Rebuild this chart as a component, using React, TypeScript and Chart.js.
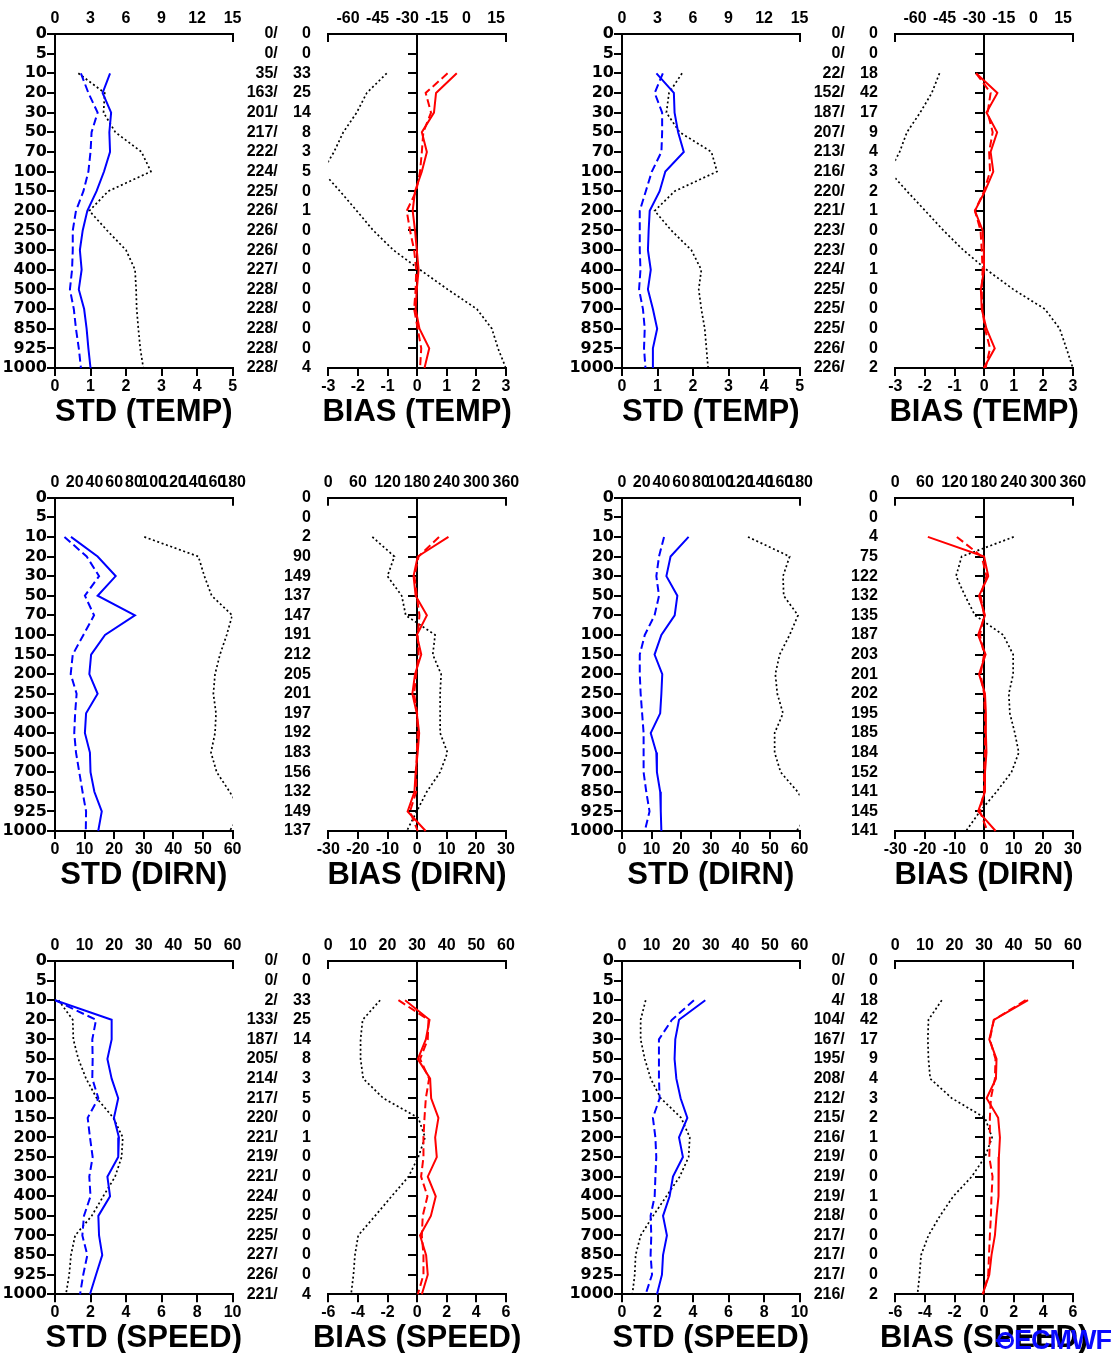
import React, { useEffect, useRef } from 'react';
import { Chart, registerables } from 'chart.js';

Chart.register(...registerables);

// ---------- shared categories ----------
const LEVELS = ['0', '5', '10', '20', '30', '50', '70', '100', '150', '200', '250', '300', '400', '500', '700', '850', '925', '1000'];

// ---------- row 1 : temperature ----------
const STD_TEMP_A_SOLID = [null, null, 1.55, 1.34, 1.58, 1.53, 1.55, 1.38, 1.17, 0.91, 0.78, 0.70, 0.75, 0.67, 0.82, 0.89, 0.94, 1.00];
const STD_TEMP_A_DASH = [null, null, 0.73, 0.94, 1.20, 1.03, 1.00, 0.94, 0.80, 0.59, 0.50, 0.50, 0.48, 0.42, 0.53, 0.59, 0.67, 0.73];
const STD_TEMP_A_DOT = [null, null, 1.97, 4.2, 4.1, 5.1, 7.3, 8.1, 4.5, 2.9, 4.4, 6.0, 6.76, 6.85, 6.9, 7.04, 7.2, 7.46];
const BIAS_TEMP_A_SOLID = [null, null, 1.34, 0.64, 0.57, 0.16, 0.33, 0.16, -0.07, -0.15, -0.07, -0.01, 0.05, -0.01, -0.05, 0.08, 0.41, 0.25];
const BIAS_TEMP_A_DASH = [null, null, 1.03, 0.29, 0.47, 0.21, 0.16, 0.10, -0.03, -0.35, -0.24, -0.10, -0.03, -0.05, -0.10, 0.02, 0.14, 0.10];
const BIAS_TEMP_A_DOT = [null, null, -40.4, -50.5, -55.6, -62.4, -67.1, -73, -64.1, -55.6, -47.2, -37, -23.5, -9.5, 5.3, 12.9, 16.0, 20.0];
const COUNT_TEMP_A_1 = ['0/', '0/', '35/', '163/', '201/', '217/', '222/', '224/', '225/', '226/', '226/', '226/', '227/', '228/', '228/', '228/', '228/', '228/'];
const COUNT_TEMP_A_2 = ['0', '0', '33', '25', '14', '8', '3', '5', '0', '1', '0', '0', '0', '0', '0', '0', '0', '4'];

const STD_TEMP_B_SOLID = [null, null, 0.97, 1.46, 1.48, 1.58, 1.74, 1.22, 1.06, 0.78, 0.75, 0.73, 0.81, 0.73, 0.87, 0.99, 0.87, 0.87];
const STD_TEMP_B_DASH = [null, null, 1.15, 0.92, 1.13, 1.13, 1.11, 0.84, 0.67, 0.50, 0.50, 0.50, 0.52, 0.48, 0.59, 0.64, 0.62, 0.66];
const STD_TEMP_B_DOT = [null, null, 5.07, 3.97, 3.75, 4.87, 7.55, 8.03, 4.45, 2.76, 4.17, 5.86, 6.7, 6.48, 6.7, 6.99, 7.13, 7.27];
const BIAS_TEMP_B_SOLID = [null, null, -0.27, 0.45, 0.08, 0.44, 0.22, 0.31, 0.03, -0.31, -0.05, -0.01, 0.0, -0.11, -0.08, 0.08, 0.36, -0.01];
const BIAS_TEMP_B_DASH = [null, null, -0.27, 0.22, 0.12, 0.29, 0.17, 0.20, 0.0, -0.31, -0.12, -0.08, -0.05, -0.08, -0.06, 0.03, 0.20, 0.05];
const BIAS_TEMP_B_DOT = [null, null, -47.6, -51.5, -57.4, -64.1, -67.8, -73, -64.1, -54.8, -45.6, -35.5, -23.7, -10.2, 5.8, 13.3, 16.7, 20.0];
const COUNT_TEMP_B_1 = ['0/', '0/', '22/', '152/', '187/', '207/', '213/', '216/', '220/', '221/', '223/', '223/', '224/', '225/', '225/', '225/', '226/', '226/'];
const COUNT_TEMP_B_2 = ['0', '0', '18', '42', '17', '9', '4', '3', '2', '1', '0', '0', '1', '0', '0', '0', '0', '2'];

// ---------- row 2 : wind direction ----------
const STD_DIRN_A_SOLID = [null, null, 5.4, 14.4, 20.5, 14.4, 27.0, 16.9, 12.2, 11.6, 14.4, 10.5, 10.1, 11.8, 12.0, 13.3, 15.8, 14.6];
const STD_DIRN_A_DASH = [null, null, 3.2, 10.7, 14.9, 10.1, 13.2, 9.6, 6.0, 5.3, 7.3, 6.8, 6.5, 7.1, 8.2, 9.3, 10.5, 10.4];
const STD_DIRN_A_DOT = [null, null, 90.5, 145.3, 151.4, 158.8, 179.7, 174, 167.2, 162.2, 160.5, 163.2, 162.2, 158.1, 163.9, 177, 189, 177];
const BIAS_DIRN_A_SOLID = [null, null, 10.6, 0.2, -1.2, -0.5, 3.3, -0.1, 1.4, -0.7, -1.6, -0.1, 0.7, 0.2, -0.5, -0.9, -3.2, 2.9];
const BIAS_DIRN_A_DASH = [null, null, 7.4, 0.5, -0.9, -0.1, 0.8, 0.2, 0.5, -0.3, -1.0, 0.0, 0.2, -0.1, -0.3, -0.3, -2.4, 0.2];
const BIAS_DIRN_A_DOT = [null, null, 89.3, 134, 119.8, 148.8, 157, 216.5, 211.8, 228.7, 226.7, 226.7, 226.7, 241.5, 226.7, 199.6, 179.3, 159];
const COUNT_DIRN_A = ['0', '0', '2', '90', '149', '137', '147', '191', '212', '205', '201', '197', '192', '183', '156', '132', '149', '137'];

const STD_DIRN_B_SOLID = [null, null, 22.5, 16.4, 15.0, 18.7, 17.8, 13.3, 11.0, 13.6, 13.3, 12.9, 9.7, 11.6, 11.8, 12.9, 13.1, 13.3];
const STD_DIRN_B_DASH = [null, null, 14.2, 12.5, 11.6, 12.5, 11.0, 7.7, 6.0, 6.0, 6.3, 6.8, 7.3, 7.3, 7.3, 8.2, 9.3, 7.7];
const STD_DIRN_B_DOT = [null, null, 127.7, 169.9, 163.2, 163.9, 178.4, 169.9, 159.8, 155.4, 157.4, 163.2, 154.7, 154.7, 160.8, 178, 190, 177];
const BIAS_DIRN_B_SOLID = [null, null, -19.0, 0.0, 1.4, -1.7, 0.3, -2.0, 0.5, -1.7, 0.3, 0.6, 0.6, 0.8, 0.3, 0.3, -2.0, 3.9];
const BIAS_DIRN_B_DASH = [null, null, -9.2, -0.8, 0.8, -1.2, 0.0, -1.4, 0.0, -1.2, 0.0, 0.3, 0.3, 0.3, 0.0, 0.0, -1.4, 1.1];
const BIAS_DIRN_B_DOT = [null, null, 240, 134.6, 123.1, 141.3, 161.5, 218.7, 238.9, 238.9, 230.1, 232.2, 242.3, 250.3, 235.5, 205.2, 171.6, 143.3];
const COUNT_DIRN_B = ['0', '0', '4', '75', '122', '132', '135', '187', '203', '201', '202', '195', '185', '184', '152', '141', '145', '141'];

// ---------- row 3 : wind speed ----------
const STD_SPEED_A_SOLID = [null, null, 0.0, 3.19, 3.19, 2.95, 3.19, 3.56, 3.32, 3.6, 3.56, 2.95, 3.1, 2.44, 2.48, 2.66, 2.31, 1.97];
const STD_SPEED_A_DASH = [null, null, 0.0, 2.31, 2.1, 2.12, 2.1, 2.44, 1.84, 1.97, 2.12, 1.93, 2.0, 1.63, 1.54, 1.82, 1.59, 1.41];
const STD_SPEED_A_DOT = [null, null, 1.2, 6.0, 6.2, 7.9, 10.5, 14.1, 19.7, 22.9, 22.5, 20.3, 16.3, 12.4, 6.8, 5.4, 4.8, 3.7];
const BIAS_SPEED_A_SOLID = [null, null, -0.81, 0.84, 0.59, 0.05, 0.88, 0.95, 1.44, 1.22, 1.33, 0.72, 1.26, 0.93, 0.2, 0.61, 0.72, 0.32];
const BIAS_SPEED_A_DASH = [null, null, -1.26, 0.77, 0.72, 0.2, 0.81, 0.59, 0.5, 0.43, 0.43, 0.27, 0.7, 0.38, 0.32, 0.43, 0.43, 0.05];
const BIAS_SPEED_A_DOT = [null, null, 17.5, 11.6, 10.9, 10.9, 11.8, 18.6, 30.4, 32.7, 30.4, 27.1, 21.4, 15.8, 10.1, 9.0, 8.5, 7.7];
const COUNT_SPEED_A_1 = ['0/', '0/', '2/', '133/', '187/', '205/', '214/', '217/', '220/', '221/', '219/', '221/', '224/', '225/', '225/', '227/', '226/', '221/'];
const COUNT_SPEED_A_2 = ['0', '0', '33', '25', '14', '8', '3', '5', '0', '1', '0', '0', '0', '0', '0', '0', '0', '4'];

const STD_SPEED_B_SOLID = [null, null, 4.69, 3.21, 3.0, 2.96, 3.06, 3.3, 3.68, 3.21, 3.43, 2.87, 2.68, 2.31, 2.53, 2.31, 2.25, 1.97];
const STD_SPEED_B_DASH = [null, null, 4.05, 2.81, 2.08, 2.08, 2.08, 2.12, 1.74, 1.88, 1.93, 1.88, 1.84, 1.61, 1.65, 1.61, 1.69, 1.33];
const STD_SPEED_B_DOT = [null, null, 8.0, 6.3, 6.3, 7.7, 9.7, 13.1, 20.0, 22.9, 22.5, 19.5, 15.0, 10.5, 6.3, 4.6, 4.3, 3.5];
const BIAS_SPEED_B_SOLID = [null, null, 2.97, 0.66, 0.35, 0.84, 0.8, 0.17, 0.95, 1.07, 1.0, 1.0, 0.95, 0.84, 0.73, 0.5, 0.35, -0.1];
const BIAS_SPEED_B_DASH = [null, null, 2.81, 0.66, 0.39, 0.77, 0.73, 0.46, 0.39, 0.39, 0.35, 0.57, 0.5, 0.46, 0.39, 0.33, 0.28, -0.06];
const BIAS_SPEED_B_DOT = [null, null, 15.7, 11.2, 11.0, 11.2, 11.8, 19.1, 30.3, 32.7, 30.3, 25.8, 19.6, 15.1, 11.2, 8.7, 8.2, 7.5];
const COUNT_SPEED_B_1 = ['0/', '0/', '4/', '104/', '167/', '195/', '208/', '212/', '215/', '216/', '219/', '219/', '219/', '218/', '217/', '217/', '217/', '216/'];
const COUNT_SPEED_B_2 = ['0', '0', '18', '42', '17', '9', '4', '3', '2', '1', '0', '0', '1', '0', '0', '0', '0', '2'];

// ---------- axis ticks ----------
const STD_TEMP_BOTTOM = [0, 1, 2, 3, 4, 5];
const STD_TEMP_TOP = [0, 3, 6, 9, 12, 15];
const BIAS_TEMP_BOTTOM = [-3, -2, -1, 0, 1, 2, 3];
const BIAS_TEMP_TOP = [-60, -45, -30, -15, 0, 15];
const STD_DIRN_BOTTOM = [0, 10, 20, 30, 40, 50, 60];
const STD_DIRN_TOP = [0, 20, 40, 60, 80, 100, 120, 140, 160, 180];
const BIAS_DIRN_BOTTOM = [-30, -20, -10, 0, 10, 20, 30];
const BIAS_DIRN_TOP = [0, 60, 120, 180, 240, 300, 360];
const STD_SPEED_BOTTOM = [0, 2, 4, 6, 8, 10];
const STD_SPEED_TOP = [0, 10, 20, 30, 40, 50, 60];
const BIAS_SPEED_BOTTOM = [-6, -4, -2, 0, 2, 4, 6];
const BIAS_SPEED_TOP = [0, 10, 20, 30, 40, 50, 60];

// ---------- layout ----------
const ROW_TOP = [0, 463, 927];
const TOP_H = [34, 34.7, 34];
const AREA_H = [334, 333.3, 333.3];
const BOTTOM_H = 30;
const CANVAS_H = 420;
const COL_STEP = 567;
const STD_W = 275;
const STD_LEFT_AXIS = 55;
const AREA_W = 177.6;
const BIAS_LEFT = 245;
const BIAS_W = 300;
const COUNT_AREA_W = 83.3;
const C2_W = 42;
const C2_PAD = 17.5;
const C1_PAD = 50.5 - C2_W;
const TITLE_OFFSET = 42;

const BLUE = '#0000ff';
const RED = '#ff0000';
const SANS = "'Liberation Sans', Arial, Helvetica, sans-serif";
const LABEL_FONT = { family: SANS, size: 16, weight: 'bold' as const };
const LEVEL_FONT = { family: "'DejaVu Sans', Verdana, sans-serif", size: 16, weight: 'bold' as const };

type Series = (number | null)[];
type Panel = {
  kind: 'std' | 'bias';
  col: number;
  row: number;
  solid: Series;
  dash: Series;
  dot: Series;
  bottomRange: [number, number];
  bottomTicks: number[];
  topRange: [number, number];
  topTicks: number[];
  title: string;
  counts1?: string[];
  counts2?: string[];
};

const PANELS: Panel[] = [
  { kind: 'std', col: 0, row: 0, solid: STD_TEMP_A_SOLID, dash: STD_TEMP_A_DASH, dot: STD_TEMP_A_DOT, bottomRange: [0, 5], bottomTicks: STD_TEMP_BOTTOM, topRange: [0, 15], topTicks: STD_TEMP_TOP, title: 'STD (TEMP)' },
  { kind: 'bias', col: 0, row: 0, solid: BIAS_TEMP_A_SOLID, dash: BIAS_TEMP_A_DASH, dot: BIAS_TEMP_A_DOT, bottomRange: [-3, 3], bottomTicks: BIAS_TEMP_BOTTOM, topRange: [-70, 20], topTicks: BIAS_TEMP_TOP, title: 'BIAS (TEMP)', counts1: COUNT_TEMP_A_1, counts2: COUNT_TEMP_A_2 },
  { kind: 'std', col: 1, row: 0, solid: STD_TEMP_B_SOLID, dash: STD_TEMP_B_DASH, dot: STD_TEMP_B_DOT, bottomRange: [0, 5], bottomTicks: STD_TEMP_BOTTOM, topRange: [0, 15], topTicks: STD_TEMP_TOP, title: 'STD (TEMP)' },
  { kind: 'bias', col: 1, row: 0, solid: BIAS_TEMP_B_SOLID, dash: BIAS_TEMP_B_DASH, dot: BIAS_TEMP_B_DOT, bottomRange: [-3, 3], bottomTicks: BIAS_TEMP_BOTTOM, topRange: [-70, 20], topTicks: BIAS_TEMP_TOP, title: 'BIAS (TEMP)', counts1: COUNT_TEMP_B_1, counts2: COUNT_TEMP_B_2 },

  { kind: 'std', col: 0, row: 1, solid: STD_DIRN_A_SOLID, dash: STD_DIRN_A_DASH, dot: STD_DIRN_A_DOT, bottomRange: [0, 60], bottomTicks: STD_DIRN_BOTTOM, topRange: [0, 180], topTicks: STD_DIRN_TOP, title: 'STD (DIRN)' },
  { kind: 'bias', col: 0, row: 1, solid: BIAS_DIRN_A_SOLID, dash: BIAS_DIRN_A_DASH, dot: BIAS_DIRN_A_DOT, bottomRange: [-30, 30], bottomTicks: BIAS_DIRN_BOTTOM, topRange: [0, 360], topTicks: BIAS_DIRN_TOP, title: 'BIAS (DIRN)', counts2: COUNT_DIRN_A },
  { kind: 'std', col: 1, row: 1, solid: STD_DIRN_B_SOLID, dash: STD_DIRN_B_DASH, dot: STD_DIRN_B_DOT, bottomRange: [0, 60], bottomTicks: STD_DIRN_BOTTOM, topRange: [0, 180], topTicks: STD_DIRN_TOP, title: 'STD (DIRN)' },
  { kind: 'bias', col: 1, row: 1, solid: BIAS_DIRN_B_SOLID, dash: BIAS_DIRN_B_DASH, dot: BIAS_DIRN_B_DOT, bottomRange: [-30, 30], bottomTicks: BIAS_DIRN_BOTTOM, topRange: [0, 360], topTicks: BIAS_DIRN_TOP, title: 'BIAS (DIRN)', counts2: COUNT_DIRN_B },

  { kind: 'std', col: 0, row: 2, solid: STD_SPEED_A_SOLID, dash: STD_SPEED_A_DASH, dot: STD_SPEED_A_DOT, bottomRange: [0, 10], bottomTicks: STD_SPEED_BOTTOM, topRange: [0, 60], topTicks: STD_SPEED_TOP, title: 'STD (SPEED)' },
  { kind: 'bias', col: 0, row: 2, solid: BIAS_SPEED_A_SOLID, dash: BIAS_SPEED_A_DASH, dot: BIAS_SPEED_A_DOT, bottomRange: [-6, 6], bottomTicks: BIAS_SPEED_BOTTOM, topRange: [0, 60], topTicks: BIAS_SPEED_TOP, title: 'BIAS (SPEED)', counts1: COUNT_SPEED_A_1, counts2: COUNT_SPEED_A_2 },
  { kind: 'std', col: 1, row: 2, solid: STD_SPEED_B_SOLID, dash: STD_SPEED_B_DASH, dot: STD_SPEED_B_DOT, bottomRange: [0, 10], bottomTicks: STD_SPEED_BOTTOM, topRange: [0, 60], topTicks: STD_SPEED_TOP, title: 'STD (SPEED)' },
  { kind: 'bias', col: 1, row: 2, solid: BIAS_SPEED_B_SOLID, dash: BIAS_SPEED_B_DASH, dot: BIAS_SPEED_B_DOT, bottomRange: [-6, 6], bottomTicks: BIAS_SPEED_BOTTOM, topRange: [0, 60], topTicks: BIAS_SPEED_TOP, title: 'BIAS (SPEED)', counts1: COUNT_SPEED_B_1, counts2: COUNT_SPEED_B_2 },
];

function canvasLeft(p: Panel) {
  return p.kind === 'std' ? p.col * COL_STEP : BIAS_LEFT + p.col * COL_STEP;
}
function canvasWidth(p: Panel) {
  return p.kind === 'std' ? STD_W : BIAS_W;
}
function areaLeft(p: Panel) {
  return p.kind === 'std' ? STD_LEFT_AXIS : COUNT_AREA_W;
}

const border = { display: true, color: '#000', width: 2 };

function buildConfig(p: Panel): any {
  const lineColor = p.kind === 'std' ? BLUE : RED;
  const row = p.row;
  const aLeft = areaLeft(p);
  const padRight = canvasWidth(p) - aLeft - AREA_W;
  const padBottom = CANVAS_H - TOP_H[row] - AREA_H[row] - BOTTOM_H;
  const [tMin, tMax] = p.topRange;
  const topVals = Array.from(new Set([tMin, ...p.topTicks, tMax])).sort((a, b) => a - b);

  const scales: any = {
    x: {
      type: 'linear',
      position: 'bottom',
      min: p.bottomRange[0],
      max: p.bottomRange[1],
      afterBuildTicks: (s: any) => { s.ticks = p.bottomTicks.map((v) => ({ value: v })); },
      afterFit: (s: any) => { s.height = BOTTOM_H; },
      grid: { drawOnChartArea: false, drawTicks: true, tickLength: 8, color: '#000', lineWidth: 2 },
      border,
      ticks: { font: LABEL_FONT, color: '#000', padding: 1, autoSkip: false, maxRotation: 0, minRotation: 0 },
    },
    x2: {
      type: 'linear',
      position: 'top',
      min: tMin,
      max: tMax,
      afterBuildTicks: (s: any) => { s.ticks = topVals.map((v) => ({ value: v })); },
      afterFit: (s: any) => { s.height = TOP_H[row]; },
      grid: {
        drawOnChartArea: false,
        drawTicks: true,
        tickLength: -8,
        lineWidth: 2,
        color: (c: any) => (c.index === 0 || c.index === topVals.length - 1 ? '#000' : 'rgba(0,0,0,0)'),
      },
      border,
      ticks: {
        font: LABEL_FONT,
        color: '#000',
        padding: 14,
        autoSkip: false,
        maxRotation: 0,
        minRotation: 0,
        callback: (v: any) => (p.topTicks.includes(Number(v)) ? String(v) : ''),
      },
    },
  };

  if (p.kind === 'std') {
    scales.y = {
      type: 'category',
      position: 'left',
      afterFit: (s: any) => { s.width = STD_LEFT_AXIS; },
      grid: { drawOnChartArea: false, drawTicks: true, tickLength: 8, color: '#000', lineWidth: 2 },
      border,
      ticks: { font: LEVEL_FONT, color: '#000', padding: 0, autoSkip: false },
    };
  } else {
    const hasFirst = !!p.counts1;
    const c2w = hasFirst ? C2_W : COUNT_AREA_W - 0.5;
    const c1w = COUNT_AREA_W - c2w;
    scales.y = {
      type: 'category',
      position: { x: 0 },
      grid: { drawOnChartArea: false, drawTicks: true, tickLength: 8, color: '#000', lineWidth: 2 },
      border,
      ticks: { display: false, autoSkip: false },
    };
    scales.c1 = {
      type: 'category',
      position: 'left',
      labels: p.counts1 || LEVELS.map(() => ''),
      weight: 2,
      afterFit: (s: any) => { s.width = c1w; },
      grid: { display: false, drawTicks: false },
      border: { display: false },
      ticks: { font: LABEL_FONT, color: '#000', padding: C1_PAD, autoSkip: false },
    };
    scales.c2 = {
      type: 'category',
      position: 'left',
      labels: p.counts2,
      weight: 1,
      afterFit: (s: any) => { s.width = c2w; },
      grid: { display: false, drawTicks: false },
      border: { display: false },
      ticks: { font: LABEL_FONT, color: '#000', padding: C2_PAD, autoSkip: false },
    };
  }

  return {
    type: 'line',
    data: {
      labels: LEVELS,
      datasets: [
        { data: p.solid, xAxisID: 'x', yAxisID: 'y', borderColor: lineColor, borderWidth: 2, pointRadius: 0, tension: 0, fill: false },
        { data: p.dash, xAxisID: 'x', yAxisID: 'y', borderColor: lineColor, borderWidth: 2, borderDash: [8, 4], pointRadius: 0, tension: 0, fill: false },
        { data: p.dot, xAxisID: 'x2', yAxisID: 'y', borderColor: '#000', borderWidth: 1.7, borderDash: [2, 2.6], pointRadius: 0, tension: 0, fill: false },
      ],
    },
    options: {
      indexAxis: 'y',
      responsive: false,
      maintainAspectRatio: false,
      animation: false,
      devicePixelRatio: 1,
      events: [],
      layout: { padding: { left: 0, top: 0, right: padRight, bottom: padBottom } },
      plugins: { legend: { display: false }, tooltip: { enabled: false }, title: { display: false } },
      scales,
    },
  };
}

function PanelChart({ p }: { p: Panel }) {
  const ref = useRef<HTMLCanvasElement>(null);
  useEffect(() => {
    if (!ref.current) return;
    const chart = new Chart(ref.current, buildConfig(p));
    return () => chart.destroy();
  }, [p]);
  const w = canvasWidth(p);
  return (
    <canvas
      ref={ref}
      width={w}
      height={CANVAS_H}
      style={{ position: 'absolute', left: canvasLeft(p), top: ROW_TOP[p.row], width: w, height: CANVAS_H }}
    />
  );
}

function PanelTitle({ p }: { p: Panel }) {
  const cx = canvasLeft(p) + areaLeft(p) + AREA_W / 2;
  const cy = ROW_TOP[p.row] + TOP_H[p.row] + AREA_H[p.row] + TITLE_OFFSET;
  return (
    <div
      style={{
        position: 'absolute',
        left: cx,
        top: cy - 15.1,
        transform: 'translateX(-50%)',
        font: `bold 31px ${SANS}`,
        lineHeight: '31px',
        whiteSpace: 'nowrap',
        color: '#000',
      }}
    >
      {p.title}
    </div>
  );
}

function Logo() {
  const c = '#0a0aff';
  return (
    <div style={{ position: 'absolute', left: 997, top: 1327, height: 27, display: 'flex', alignItems: 'center', color: c }}>
      <span style={{ position: 'relative', display: 'inline-block', width: 17, height: 17, border: `3px solid ${c}`, borderRadius: '50%', boxSizing: 'border-box' }}>
        <span style={{ position: 'absolute', left: -4, top: 4, width: 14, height: 3, background: c }} />
      </span>
      <span style={{ font: `bold 27px ${SANS}`, lineHeight: '27px', letterSpacing: -1 }}>ECMWF</span>
    </div>
  );
}

export default function App() {
  return (
    <div style={{ position: 'absolute', left: 0, top: 0, width: 1114, height: 1353, overflow: 'hidden', background: '#fff' }}>
      {PANELS.map((p, i) => <PanelChart key={'c' + i} p={p} />)}
      {PANELS.map((p, i) => <PanelTitle key={'t' + i} p={p} />)}
      <Logo />
    </div>
  );
}
